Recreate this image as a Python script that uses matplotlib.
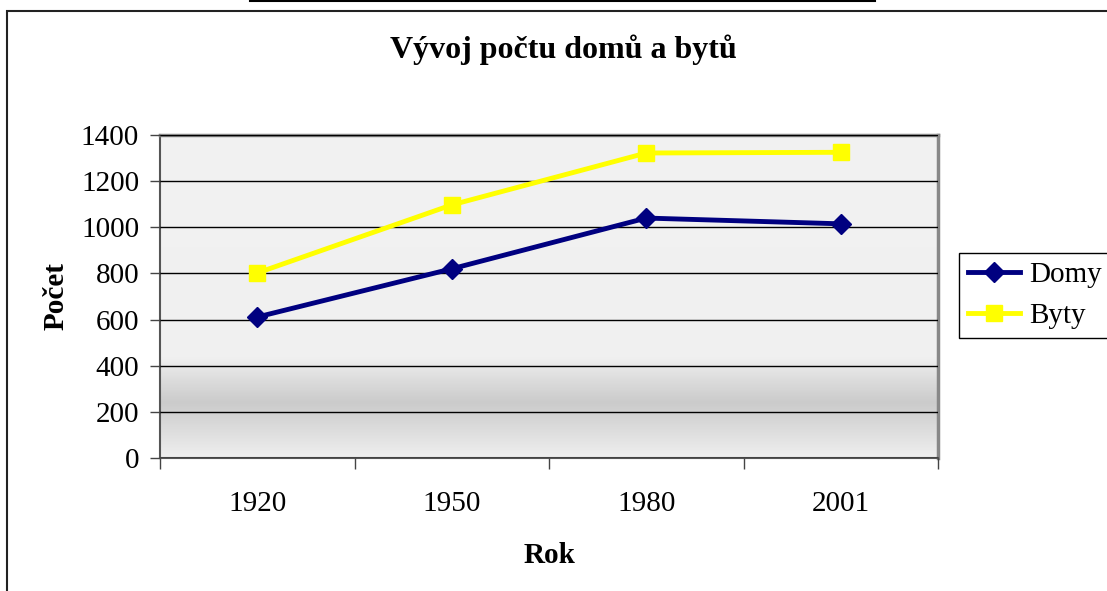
import numpy as np
import matplotlib
matplotlib.use('Agg')
import matplotlib.pyplot as plt
from matplotlib.colors import LinearSegmentedColormap
from matplotlib.lines import Line2D
from matplotlib.patches import Rectangle

# Data
years = ['1920', '1950', '1980', '2001']
domy = [611, 820, 1040, 1015]
byty = [802, 1097, 1322, 1325]

plt.rcParams['font.family'] = ['Liberation Serif', 'DejaVu Serif']

W, H = 1107, 591
fig = plt.figure(figsize=(W / 100, H / 100), dpi=100)
fig.patch.set_facecolor('white')

# outer chart border and the stray line at the very top
fig.add_artist(Rectangle((7 / W, -0.05), 1.1, 1 - 11 / H + 0.05, transform=fig.transFigure,
                         fill=False, edgecolor='#222222', linewidth=1.5))
fig.add_artist(Line2D([250 / W, 875 / W], [1 - 1 / H, 1 - 1 / H], transform=fig.transFigure,
                      color='black', linewidth=1.5))

ax = fig.add_axes([160 / W, 1 - 458 / H, (938 - 160) / W, (458 - 135) / H])

# gradient background of the plot area
stops = [(0.0, '#efefef'), (0.08, '#dedede'), (0.17, '#cbcbcb'), (0.24, '#dcdcdc'),
         (0.31, '#f0f0f0'), (1.0, '#f2f2f2')]
cmap = LinearSegmentedColormap.from_list('bg', stops)
grad = np.linspace(0, 1, 256).reshape(-1, 1)
ax.imshow(grad, cmap=cmap, aspect='auto', extent=[0, 4, 0, 1400], origin='lower',
          zorder=0, vmin=0, vmax=1)

x = np.arange(len(years)) + 0.5
ax.plot(x, domy, color='#000080', linewidth=3.5, marker='D', markersize=10, label='Domy', zorder=3)
ax.plot(x, byty, color='#FFFF00', linewidth=3.5, marker='s', markersize=11, label='Byty', zorder=3)

ax.set_xlim(0, 4)
ax.set_ylim(0, 1400)
ax.set_yticks(np.arange(0, 1401, 200))
ax.yaxis.grid(True, color='black', linewidth=1)
ax.set_axisbelow(False)
for gl in ax.get_ygridlines():
    gl.set_zorder(1)

ax.set_xticks(np.arange(0, 5))
ax.set_xticklabels([])
ax.set_xticks(x, minor=True)
ax.set_xticklabels(years, minor=True)
ax.tick_params(axis='x', which='major', length=8, width=1, color='#444444', direction='out')
ax.tick_params(axis='x', which='minor', length=0, pad=24, labelsize=21)
ax.tick_params(axis='y', length=7, width=1, color='#444444', direction='out', labelsize=21, pad=8)

for side in ['top', 'right']:
    ax.spines[side].set_color('#888888')
    ax.spines[side].set_linewidth(2.5)
for side in ['left', 'bottom']:
    ax.spines[side].set_color('#555555')
    ax.spines[side].set_linewidth(1.5)

ax.set_xlabel('Rok', fontsize=21, fontweight='bold', labelpad=18)
ax.set_ylabel('Počet', fontsize=21, fontweight='bold', labelpad=8)
fig.text(563 / W, 1 - 50 / H, 'Vývoj počtu domů a bytů', ha='center', va='center',
         fontsize=23, fontweight='bold')

leg = fig.legend(loc='upper left', bbox_to_anchor=(959 / W, 1 - 253 / H), fontsize=21,
                 frameon=True, fancybox=False, edgecolor='black', framealpha=1,
                 handlelength=1.8, handletextpad=0.3, borderpad=0.3, labelspacing=0.5,
                 borderaxespad=0)
leg.get_frame().set_linewidth(1)

fig.savefig('out.png', dpi=100)
